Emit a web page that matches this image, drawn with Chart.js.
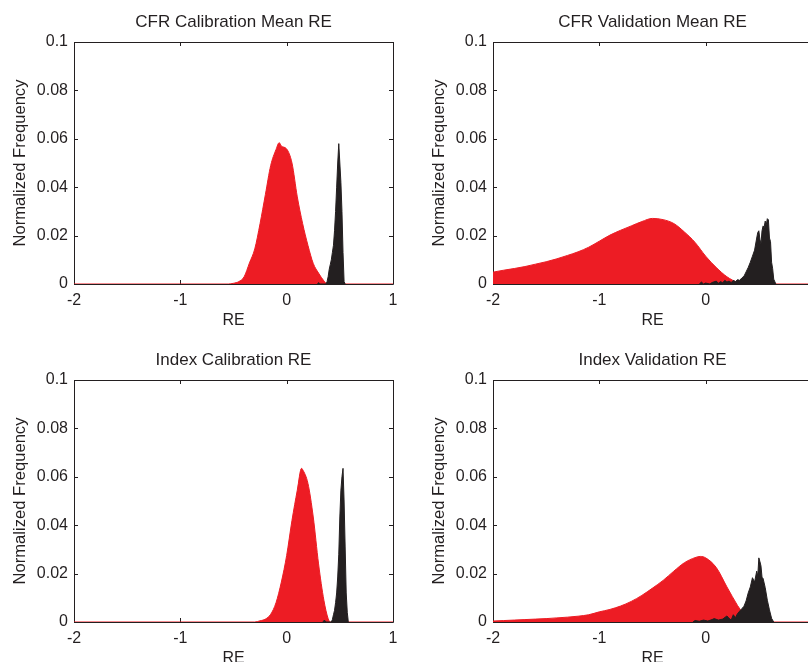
<!DOCTYPE html>
<html>
<head>
<meta charset="utf-8">
<script src="https://cdn.jsdelivr.net/npm/chart.js@4/dist/chart.umd.min.js"></script>
<style>
  html, body { margin: 0; padding: 0; background: #fff; overflow: hidden; width: 808px; height: 662px; }
  canvas { position: absolute; }
</style>
</head>
<body>
<canvas id="cfrCal" width="410" height="331" style="left:0;top:0"></canvas>
<canvas id="cfrVal" width="410" height="331" style="left:419px;top:0"></canvas>
<canvas id="idxCal" width="410" height="331" style="left:0;top:338px"></canvas>
<canvas id="idxVal" width="410" height="331" style="left:419px;top:338px"></canvas>
<script>
// axis ticks
const xTicks = [-2, -1, 0, 1];
const xTickLabels = ['-2', '-1', '0', '1'];
const yTicks = [0, 0.02, 0.04, 0.06, 0.08, 0.1];
const yTickLabels = ['0', '0.02', '0.04', '0.06', '0.08', '0.1'];

const titles = ['CFR Calibration Mean RE', 'CFR Validation Mean RE', 'Index Calibration RE', 'Index Validation RE'];

// CFR calibration mean RE
const cfrCalRedRE   = [-2, -0.55, -0.5, -0.45, -0.4, -0.35, -0.3, -0.25, -0.2, -0.15, -0.1, -0.07, -0.05, 0, 0.05, 0.1, 0.15, 0.2, 0.25, 0.3, 0.35, 0.38, 1];
const cfrCalRedFreq = [0, 0, 0.0003, 0.001, 0.003, 0.0087, 0.0145, 0.025, 0.037, 0.049, 0.0556, 0.0584, 0.057, 0.0558, 0.05, 0.036, 0.025, 0.016, 0.0085, 0.0045, 0.0013, 0, 0];
const cfrCalBlackRE   = [0.29, 0.30, 0.31, 0.37, 0.38, 0.39, 0.40, 0.41, 0.42, 0.43, 0.44, 0.45, 0.46, 0.47, 0.48, 0.49, 0.50, 0.51, 0.52, 0.53, 0.54, 0.55];
const cfrCalBlackFreq = [0, 0.0006, 0, 0, 0.001, 0.003, 0.006, 0.008, 0.010, 0.013, 0.016, 0.022, 0.030, 0.040, 0.050, 0.058, 0.050, 0.042, 0.030, 0.013, 0.001, 0];

// CFR validation mean RE
const cfrValRedRE   = [-2, -1.9, -1.8, -1.7, -1.6, -1.5, -1.4, -1.3, -1.2, -1.1, -1.0, -0.9, -0.8, -0.7, -0.6, -0.5, -0.4, -0.3, -0.2, -0.1, 0, 0.1, 0.2, 0.3, 0.35, 1];
const cfrValRedFreq = [0.0049, 0.0057, 0.0064, 0.0072, 0.0082, 0.0092, 0.0104, 0.0118, 0.0133, 0.0152, 0.0177, 0.0202, 0.0222, 0.024, 0.0258, 0.0271, 0.0266, 0.025, 0.0215, 0.0172, 0.0115, 0.0068, 0.003, 0.0006, 0, 0];
const cfrValBlackRE   = [-0.06, -0.04, -0.02, 0.0, 0.04, 0.06, 0.1, 0.12, 0.14, 0.16, 0.18, 0.2, 0.22, 0.24, 0.26, 0.28, 0.30, 0.32, 0.34, 0.36, 0.38, 0.40, 0.42, 0.44, 0.46, 0.48, 0.49, 0.50, 0.51, 0.52, 0.53, 0.54, 0.55, 0.56, 0.57, 0.58, 0.59, 0.60, 0.61, 0.62, 0.63, 0.64, 0.66];
const cfrValBlackFreq = [0, 0.0008, 0, 0.0004, 0, 0.0006, 0.0012, 0.0003, 0.001, 0.0005, 0.0015, 0.0008, 0.0012, 0.0006, 0.0015, 0.001, 0.0018, 0.0015, 0.0025, 0.0032, 0.005, 0.0068, 0.009, 0.0115, 0.014, 0.019, 0.0213, 0.022, 0.0185, 0.0165, 0.022, 0.024, 0.0235, 0.026, 0.0245, 0.027, 0.0265, 0.019, 0.0175, 0.009, 0.0063, 0.002, 0];

// Index calibration RE
const idxCalRedRE   = [-2, -0.3, -0.25, -0.2, -0.15, -0.1, -0.05, 0, 0.05, 0.1, 0.14, 0.15, 0.2, 0.25, 0.3, 0.35, 0.39, 0.41, 1];
const idxCalRedFreq = [0, 0, 0.0005, 0.0012, 0.0032, 0.008, 0.0165, 0.0275, 0.042, 0.0545, 0.0635, 0.063, 0.0573, 0.0434, 0.024, 0.009, 0.0014, 0, 0];
const idxCalBlackRE   = [0.34, 0.355, 0.37, 0.42, 0.43, 0.44, 0.45, 0.46, 0.47, 0.48, 0.49, 0.50, 0.51, 0.52, 0.53, 0.54, 0.55, 0.56, 0.57, 0.58];
const idxCalBlackFreq = [0, 0.0008, 0, 0, 0.001, 0.003, 0.0048, 0.008, 0.012, 0.0186, 0.028, 0.0434, 0.0545, 0.060, 0.0635, 0.050, 0.031, 0.012, 0.004, 0];

// Index validation RE
const idxValRedRE   = [-2, -1.9, -1.8, -1.7, -1.6, -1.5, -1.4, -1.3, -1.2, -1.1, -1.0, -0.9, -0.8, -0.7, -0.6, -0.5, -0.4, -0.3, -0.2, -0.1, -0.05, 0, 0.1, 0.2, 0.3, 0.35, 0.39, 1];
const idxValRedFreq = [0.0004, 0.0006, 0.0008, 0.001, 0.0012, 0.0014, 0.0017, 0.002, 0.0024, 0.003, 0.0042, 0.0052, 0.0066, 0.0085, 0.011, 0.014, 0.0172, 0.021, 0.0245, 0.0266, 0.0271, 0.0265, 0.0225, 0.0145, 0.0068, 0.0035, 0, 0];
const idxValBlackRE   = [-0.12, -0.1, -0.06, -0.02, 0.02, 0.06, 0.08, 0.12, 0.16, 0.2, 0.22, 0.24, 0.26, 0.28, 0.30, 0.32, 0.34, 0.36, 0.38, 0.40, 0.42, 0.44, 0.46, 0.48, 0.49, 0.50, 0.51, 0.52, 0.53, 0.54, 0.56, 0.58, 0.60, 0.62, 0.64];
const idxValBlackFreq = [0, 0.0006, 0.0003, 0.0008, 0.0004, 0.001, 0.0014, 0.0008, 0.0012, 0.0025, 0.0015, 0.0008, 0.003, 0.0018, 0.0035, 0.0045, 0.0055, 0.0065, 0.0087, 0.012, 0.0145, 0.0183, 0.0165, 0.021, 0.019, 0.0265, 0.025, 0.0232, 0.0185, 0.018, 0.0142, 0.009, 0.005, 0.0015, 0];

const RED = '#ed1c24';
const BLACK = '#231f20';
const TEXT = '#231f20';
const FONT = '"Liberation Sans", Arial, Helvetica, sans-serif';

const framePlugin = {
  id: 'frame',
  beforeDatasetsDraw(chart) {
    const { ctx, chartArea: a, scales } = chart;
    ctx.save();
    ctx.strokeStyle = BLACK;
    ctx.lineWidth = 1;
    ctx.beginPath();
    ctx.rect(Math.round(a.left) + 0.5, Math.round(a.top) + 0.5, Math.round(a.right - a.left), Math.round(a.bottom - a.top));
    for (const v of xTicks) {
      const px = Math.round(scales.x.getPixelForValue(v)) + 0.5;
      ctx.moveTo(px, a.bottom); ctx.lineTo(px, a.bottom - 4);
      ctx.moveTo(px, a.top); ctx.lineTo(px, a.top + 4);
    }
    for (const v of yTicks) {
      const py = Math.round(scales.y.getPixelForValue(v)) + 0.5;
      ctx.moveTo(a.left, py); ctx.lineTo(a.left + 4, py);
      ctx.moveTo(a.right, py); ctx.lineTo(a.right - 4, py);
    }
    ctx.stroke();
    ctx.restore();
  }
};

function pts(xs, ys) {
  return xs.map((x, i) => ({ x, y: ys[i] }));
}

function makeChart(id, title, redX, redY, blackX, blackY) {
  new Chart(document.getElementById(id), {
    type: 'line',
    data: {
      datasets: [
        {
          data: pts(blackX, blackY),
          borderColor: BLACK,
          backgroundColor: BLACK,
          borderWidth: 1,
          fill: 'origin',
          pointRadius: 0,
          order: 1
        },
        {
          data: pts(redX, redY),
          borderColor: RED,
          backgroundColor: RED,
          borderWidth: 1,
          fill: 'origin',
          pointRadius: 0,
          cubicInterpolationMode: 'monotone',
          order: 2
        }
      ]
    },
    options: {
      responsive: false,
      animation: false,
      devicePixelRatio: 1,
      layout: { padding: { left: 0, right: 17, top: 0, bottom: 0 } },
      plugins: {
        legend: { display: false },
        tooltip: { enabled: false },
        title: {
          display: true,
          fullSize: false,
          text: title,
          color: TEXT,
          font: { family: FONT, size: 17, weight: 'normal' },
          padding: { top: 12, bottom: 9.6 }
        }
      },
      scales: {
        x: {
          type: 'linear',
          min: -2,
          max: 1,
          afterBuildTicks: s => { s.ticks = xTicks.map(v => ({ value: v })); },
          afterFit: s => { s.height = 47; },
          grid: { display: false, drawTicks: false },
          border: { display: false },
          ticks: {
            color: TEXT,
            padding: 7,
            maxRotation: 0,
            font: { family: FONT, size: 16 },
            callback: (v) => xTickLabels[xTicks.indexOf(v)]
          },
          title: {
            display: true,
            text: 'RE',
            color: TEXT,
            font: { family: FONT, size: 16 },
            padding: { top: 0, bottom: 1 }
          }
        },
        y: {
          min: 0,
          max: 0.1,
          afterBuildTicks: s => { s.ticks = yTicks.map(v => ({ value: v })); },
          afterFit: s => { s.width = 74; },
          grid: { display: false, drawTicks: false },
          border: { display: false },
          ticks: {
            color: TEXT,
            padding: 6,
            font: { family: FONT, size: 16 },
            callback: (v) => yTickLabels[yTicks.indexOf(v)]
          },
          title: {
            display: true,
            text: 'Normalized Frequency',
            color: TEXT,
            font: { family: FONT, size: 16.6 },
            padding: { top: 10, bottom: 0 }
          }
        }
      }
    },
    plugins: [framePlugin]
  });
}

makeChart('cfrCal', titles[0], cfrCalRedRE, cfrCalRedFreq, cfrCalBlackRE, cfrCalBlackFreq);
makeChart('cfrVal', titles[1], cfrValRedRE, cfrValRedFreq, cfrValBlackRE, cfrValBlackFreq);
makeChart('idxCal', titles[2], idxCalRedRE, idxCalRedFreq, idxCalBlackRE, idxCalBlackFreq);
makeChart('idxVal', titles[3], idxValRedRE, idxValRedFreq, idxValBlackRE, idxValBlackFreq);
</script>
</body>
</html>
